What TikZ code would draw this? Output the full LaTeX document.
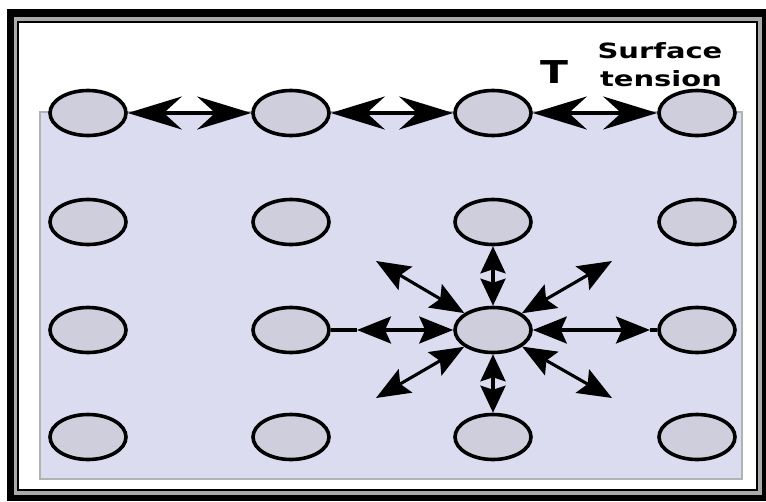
\documentclass[tikz,border=0pt]{standalone}
\usepackage{fontspec}
\usepackage{graphicx}
\newfontfamily\lblfont{DejaVu Sans}
\usetikzlibrary{shapes.geometric,arrows.meta}
\definecolor{liquidfill}{RGB}{220,220,241}
\definecolor{ballfill}{RGB}{206,206,221}
\definecolor{framegray}{RGB}{170,170,170}
\begin{document}
\begin{tikzpicture}[x=1pt,y=-1pt,
  ballnode/.style={ellipse, draw=black, line width=3.6pt, fill=ballfill, minimum width=76pt, minimum height=45pt, inner sep=0pt},
  bigarrow/.style={line width=3.4pt, {Stealth[length=54pt,width=33pt,inset=18pt]}-{Stealth[length=54pt,width=33pt,inset=18pt]}},
  smallarrow/.style={line width=3.1pt, {Stealth[length=34pt,width=27pt,inset=6pt]}-{Stealth[length=34pt,width=27pt,inset=6pt]}},
  vertarrow/.style={line width=3.1pt, {Stealth[length=27pt,width=25pt,inset=4pt]}-{Stealth[length=27pt,width=25pt,inset=4pt]}},
  linkline/.style={line width=3.1pt},
  lbl/.style={inner sep=0pt, anchor=base, font=\lblfont\bfseries}]
\useasboundingbox (0,0) rectangle (766,501);
% frame
\fill[white] (0,0) rectangle (766,501);
\fill[black] (7,9) rectangle (766,501);
\fill[framegray] (14,17) rectangle (762,495);
\draw[line width=2pt, fill=white] (18,22) rectangle (757,490);
% liquid
\draw[fill=liquidfill, draw=gray!60, line width=1.5pt] (40,112) rectangle (742,479);
% molecules
\foreach \r/\y in {1/113,2/222,3/330,4/437}
  \foreach \c/\x in {1/88,2/291,3/493,4/697}
    \node[ballnode] (n\r\c) at (\x,\y) {};
% surface arrows
\draw[bigarrow] (n11) -- (n12);
\draw[bigarrow] (n12) -- (n13);
\draw[bigarrow] (n13) -- (n14);
% interior forces
\coordinate (hl) at (357,330);
\coordinate (hr) at (650,330);
\coordinate (ul) at (376,261);
\coordinate (ur) at (612,261);
\coordinate (dl) at (376,398);
\coordinate (dr) at (612,398);
\draw[linkline] (n32) -- (hl);
\draw[smallarrow] (hl) -- (n33);
\draw[smallarrow] (n33) -- (hr);
\draw[linkline] (hr) -- (n34);
\draw[vertarrow] (n23) -- (n33);
\draw[vertarrow] (n33) -- (n43);
\draw[smallarrow] (ul) -- (n33);
\draw[smallarrow] (ur) -- (n33);
\draw[smallarrow] (dl) -- (n33);
\draw[smallarrow] (dr) -- (n33);
% labels
\node[lbl] (T) at (554,83) {\fontsize{31.5}{31.5}\selectfont\scalebox{1.3}[1]{T}};
\node[lbl] (s1) at (660,58) {\fontsize{21}{21}\selectfont\scalebox{1.38}[1]{Surface}};
\node[lbl] (s2) at (661,86) {\fontsize{21}{21}\selectfont\scalebox{1.38}[1]{tension}};
\end{tikzpicture}
\end{document}
